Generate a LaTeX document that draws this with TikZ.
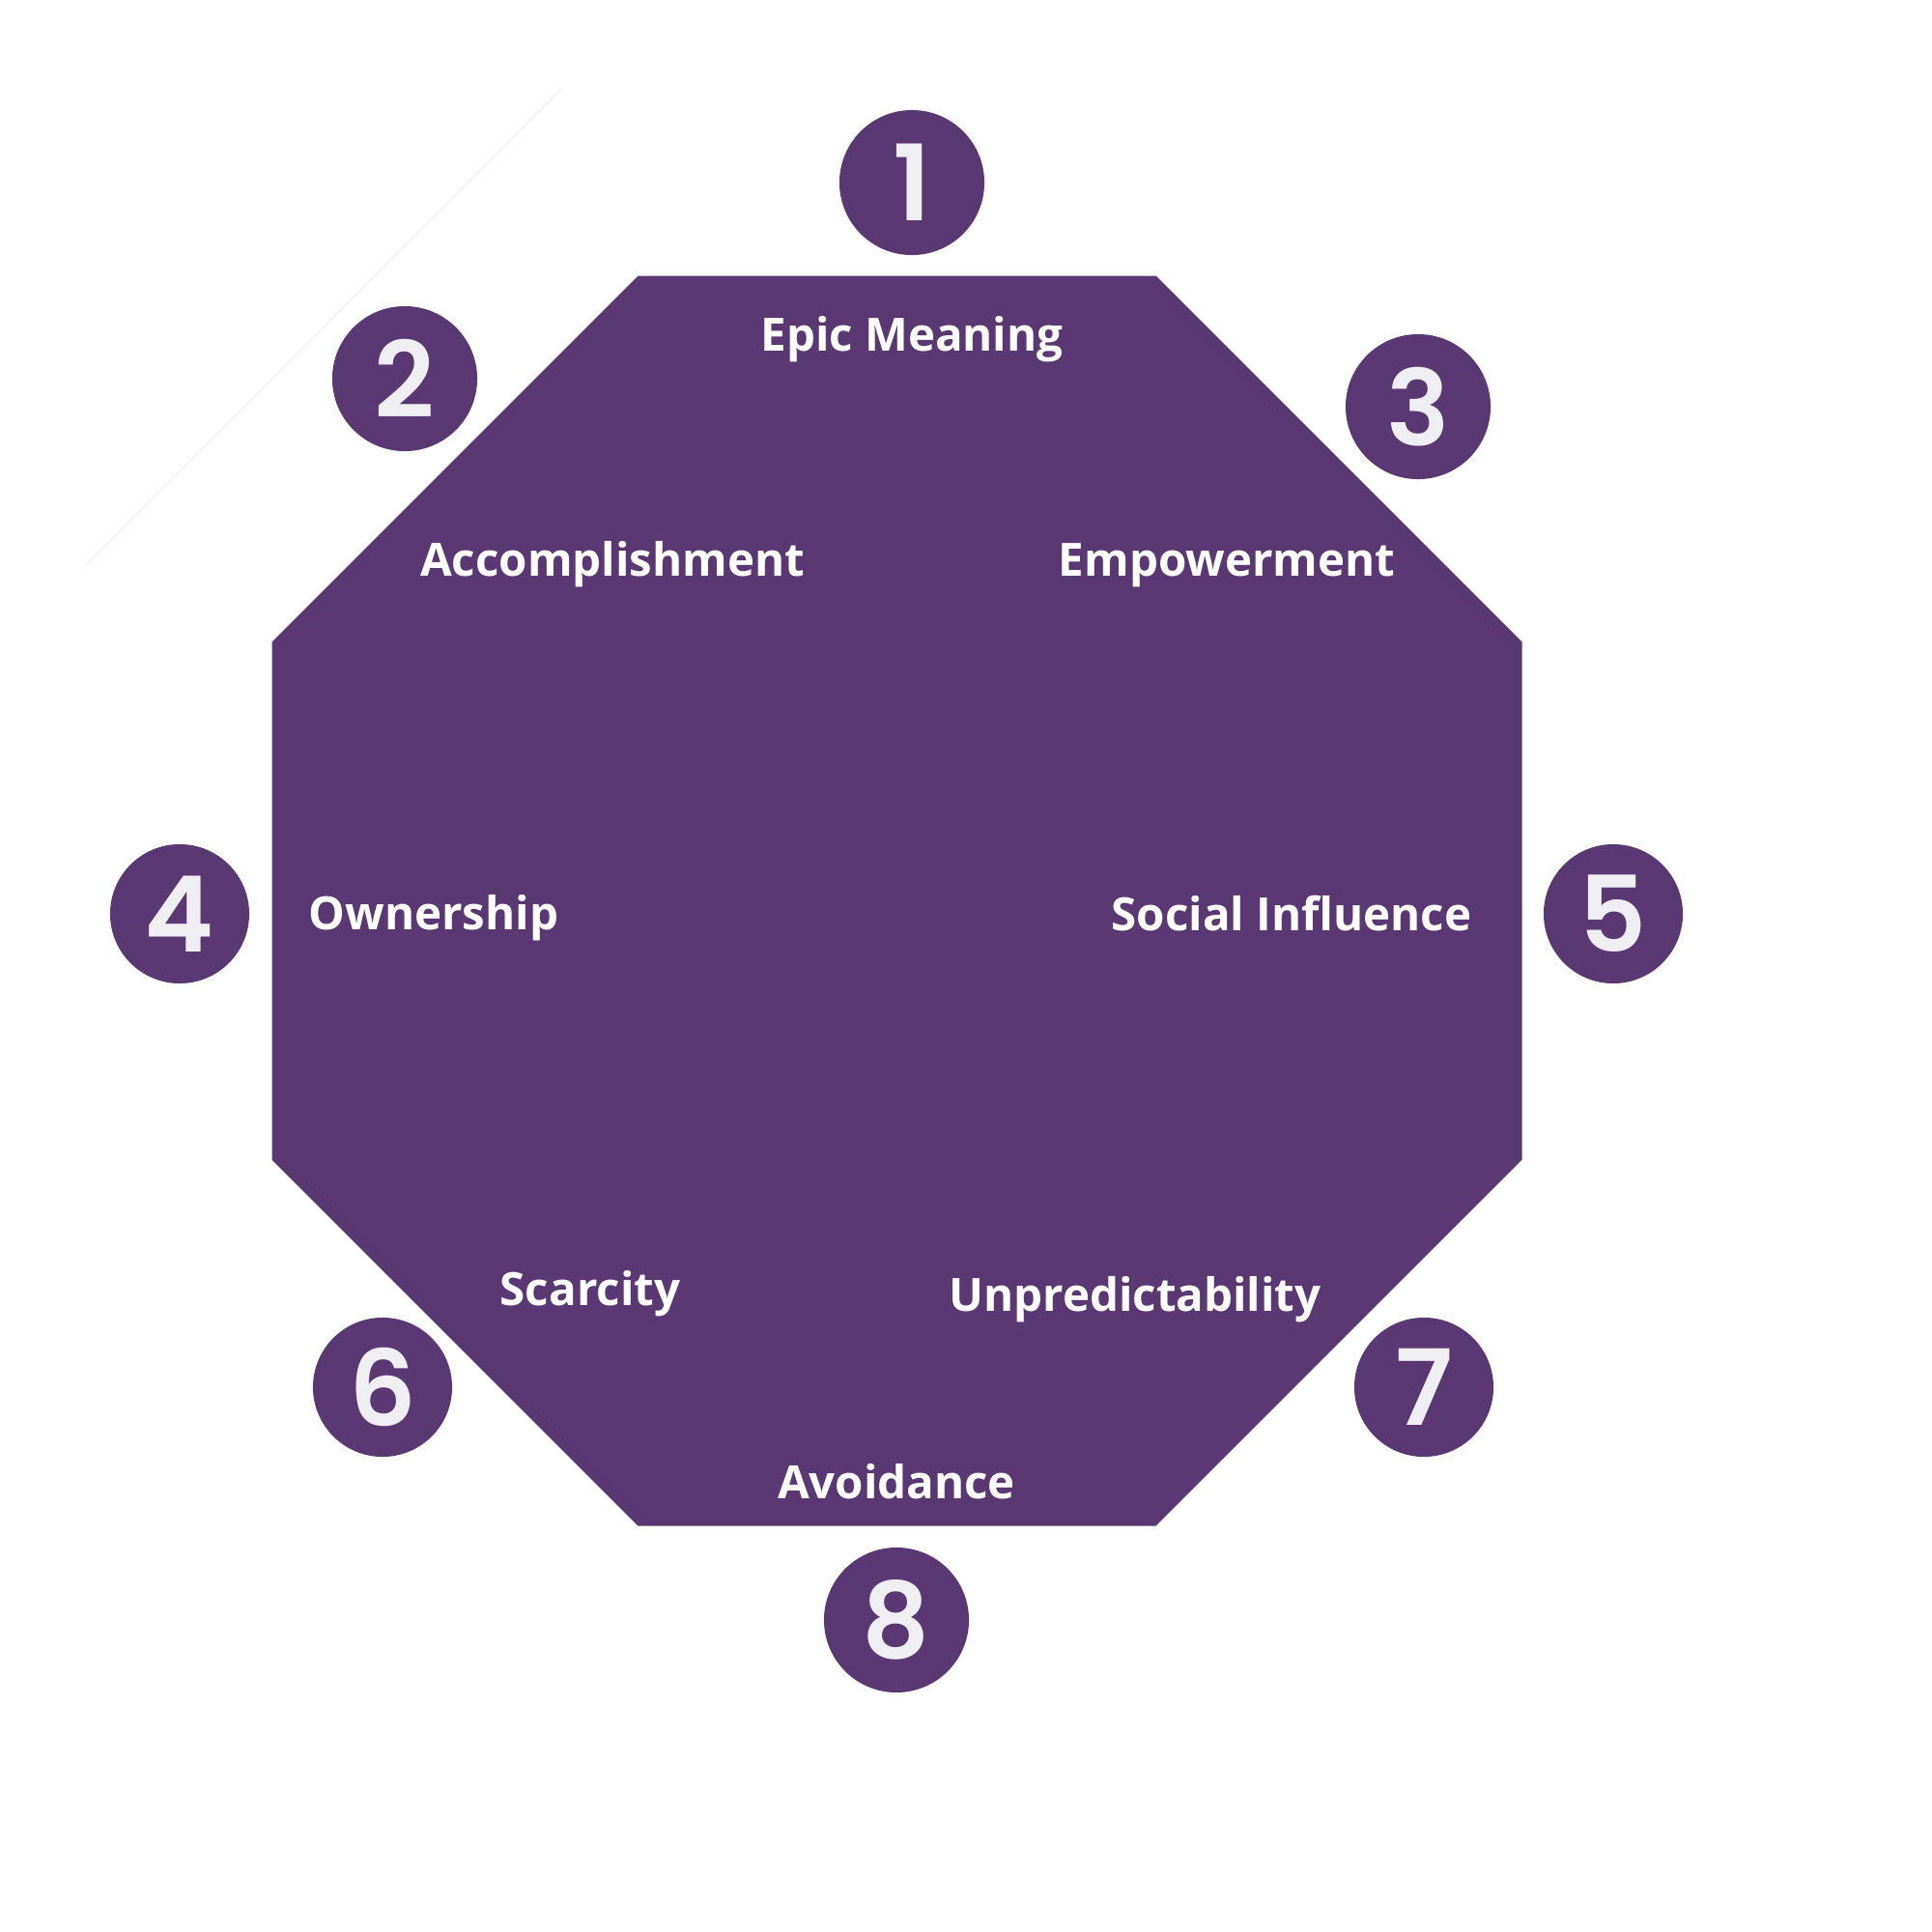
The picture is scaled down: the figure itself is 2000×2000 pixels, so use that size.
\documentclass[tikz,border=0pt]{standalone}
\usepackage{fontspec}
\setmainfont{Open Sans}[BoldFont=* Bold]
\newfontfamily\digitfont{Poppins}[UprightFont=* SemiBold]
\definecolor{octpurple}{RGB}{90,56,115}
\definecolor{digitgray}{RGB}{239,238,243}
\begin{document}
\begin{tikzpicture}[x=0.01cm,y=-0.01cm,
  numcirc/.style={circle,fill=octpurple,inner sep=0pt,minimum size=#1,text=digitgray,font=\digitfont\fontsize{31}{31}\selectfont},
  lbl/.style={text=white,font=\bfseries\fontsize{13.5}{15}\selectfont,anchor=base,inner sep=0pt}]
\useasboundingbox (0,0) rectangle (2000,2000);
\fill[white] (0,0) rectangle (2000,2000);
% faint line
\coordinate (fa) at (581,92);
\coordinate (fb) at (89,585);
\draw[black!6,line width=0.3pt] (fa) -- (fb);
% octagon
\fill[octpurple] (660.5,285.5) -- (1196.5,285.5) -- (1575.5,664.5) -- (1575.5,1200.5)
  -- (1196.5,1579.5) -- (660.5,1579.5) -- (281.5,1200.5) -- (281.5,664.5) -- cycle;
% labels
\node[lbl] (l1) at (944,363) {Epic Meaning};
\node[lbl] (l2) at (634,596) {Accomplishment};
\node[lbl] (l3) at (1270,596) {Empowerment};
\node[lbl] (l4) at (449,962) {Ownership};
\node[lbl] (l5) at (1337,963) {Social Influence};
\node[lbl] (l6) at (611,1351) {Scarcity};
\node[lbl] (l7) at (1175,1357) {Unpredictability};
\node[lbl] (l8) at (928,1551) {Avoidance};
% number circles
\node[numcirc=1.5cm] (c1) at (944,189) {1};
\node[numcirc=1.5cm] (c2) at (419,392) {2};
\node[numcirc=1.5cm] (c3) at (1468,421) {3};
\node[numcirc=1.44cm] (c4) at (186,946) {4};
\node[numcirc=1.44cm] (c5) at (1670,946) {5};
\node[numcirc=1.44cm] (c6) at (396,1436) {6};
\node[numcirc=1.44cm] (c7) at (1474,1436) {7};
\node[numcirc=1.5cm] (c8) at (928,1677) {8};
\end{tikzpicture}
\end{document}
